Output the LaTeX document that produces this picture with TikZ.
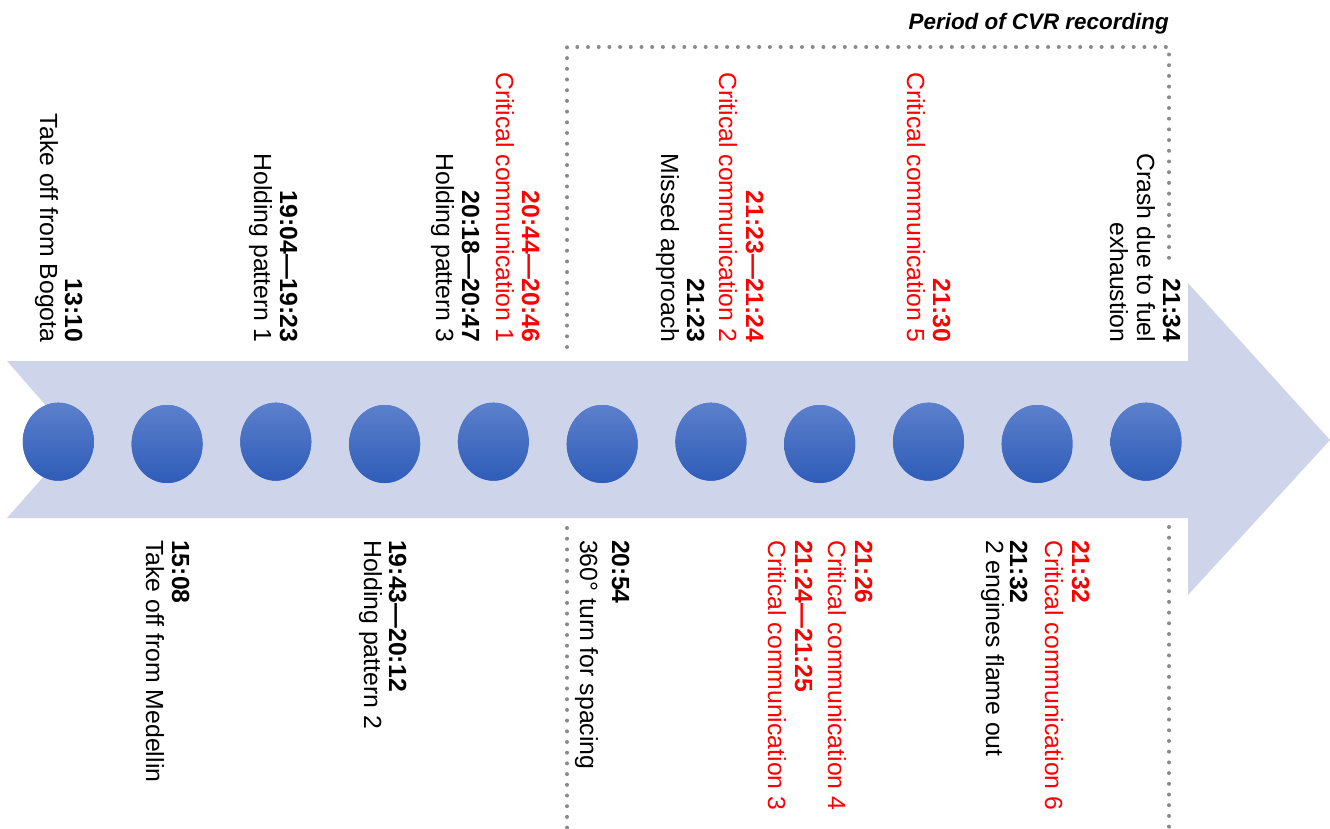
\documentclass[tikz,border=0pt]{standalone}
\usepackage{fontspec}
\setmainfont{Liberation Sans}
\definecolor{arrowfill}{RGB}{206,212,233}
\definecolor{dottone}{RGB}{138,138,138}
\definecolor{balltop}{RGB}{92,128,204}
\definecolor{ballmid}{RGB}{66,108,196}
\definecolor{ballbot}{RGB}{46,92,184}
\definecolor{alert}{RGB}{255,0,0}
\begin{document}
\begin{tikzpicture}[x=1pt,y=-1pt,
  lbl/.style={rotate=-90, inner sep=0pt, font=\fontsize{24.8}{27}\selectfont},
  tlbl/.style={lbl, anchor=base east},
  blbl/.style={lbl, anchor=base west},
  tbold/.style={font=\fontsize{24.8}{27}\selectfont\bfseries},
  hot/.style={text=alert},
  ball/.style={top color=balltop, bottom color=ballbot, draw=none},
  dotline/.style={draw=dottone, line width=4pt, line cap=round, dash pattern=on 0pt off 10.7pt}
]
\useasboundingbox (0,0) rectangle (1330,829);

% timeline arrow with notched tail
\fill[arrowfill] (7,361) -- (1188,361) -- (1188,283) -- (1330,440) -- (1188,595)
  -- (1188,518) -- (7,518) -- (76,440) -- cycle;

% event markers: solid base plus a vertical gradient clipped to each ellipse
\foreach \cx/\cy [count=\i] in {58.3/441.7, 167.1/444, 275.8/441.7, 384.6/444,
    493.4/441.7, 602.2/444, 710.9/441.7, 819.7/444, 928.5/441.7, 1037.2/444, 1146.0/441.7}
{
  \coordinate (c\i) at (\cx,\cy);
  \fill[ballmid] (c\i) ellipse [x radius=35.5, y radius=39];
  \begin{scope}
    \clip (c\i) ellipse [x radius=35.5, y radius=39];
    \shade[ball] ([shift={(-45,-40)}]c\i) rectangle ([shift={(45,40)}]c\i);
  \end{scope}
}

% CVR recording frame
\draw[dotline] (567,347) -- (567,47) -- (1169,47) -- (1169,262);
\draw[dotline] (567,528) -- (567,829);
\draw[dotline] (1169,527) -- (1169,829);
\node[anchor=base east, inner sep=0pt, font=\fontsize{22.4}{26}\selectfont\bfseries\itshape]
  (cvr) at (1169,30) {Period of CVR recording};

% labels above the arrow
\node[tlbl, tbold] (t1a) at (65,342.5) {13:10};
\node[tlbl] (t1b) at (40,342.5) {Take off from Bogota};

\node[tlbl, tbold] (t3a) at (280,342.5) {19:04—19:23};
\node[tlbl] (t3b) at (254,342.5) {Holding pattern 1};

\node[tlbl, tbold, hot] (t5a) at (522,342.5) {20:44—20:46};
\node[tlbl, hot] (t5b) at (496,342.5) {Critical communication 1};
\node[tlbl, tbold] (t5c) at (462,342.5) {20:18—20:47};
\node[tlbl] (t5d) at (436,342.5) {Holding pattern 3};

\node[tlbl, tbold, hot] (t7a) at (746,342.5) {21:23—21:24};
\node[tlbl, hot] (t7b) at (719,342.5) {Critical communication 2};
\node[tlbl, tbold] (t7c) at (687,342.5) {21:23};
\node[tlbl] (t7d) at (661,342.5) {Missed approach};

\node[tlbl, tbold, hot] (t9a) at (933,342.5) {21:30};
\node[tlbl, hot] (t9b) at (907,342.5) {Critical communication 5};

\node[tlbl, tbold] (t11a) at (1163,342.5) {21:34};
\node[tlbl] (t11b) at (1137,342.5) {Crash due to fuel};
\node[tlbl] (t11c) at (1110,342.5) {exhaustion};

% labels below the arrow
\node[blbl, tbold] (b2a) at (172,540) {15:08};
\node[blbl] (b2b) at (146,540) {Take off from Medellin};

\node[blbl, tbold] (b4a) at (389,540) {19:43—20:12};
\node[blbl] (b4b) at (364,540) {Holding pattern 2};

\node[blbl, tbold] (b6a) at (612,540) {20:54};
\node[blbl] (b6b) at (580,540) {360° turn for spacing};

\node[blbl, tbold, hot] (b8a) at (855,540) {21:26};
\node[blbl, hot] (b8b) at (828,540) {Critical communication 4};
\node[blbl, tbold, hot] (b8c) at (795,540) {21:24—21:25};
\node[blbl, hot] (b8d) at (768,540) {Critical communication 3};

\node[blbl, tbold, hot] (b10a) at (1072,540) {21:32};
\node[blbl, hot] (b10b) at (1045,540) {Critical communication 6};
\node[blbl, tbold] (b10c) at (1010,540) {21:32};
\node[blbl] (b10d) at (986,540) {2 engines flame out};
\end{tikzpicture}
\end{document}
